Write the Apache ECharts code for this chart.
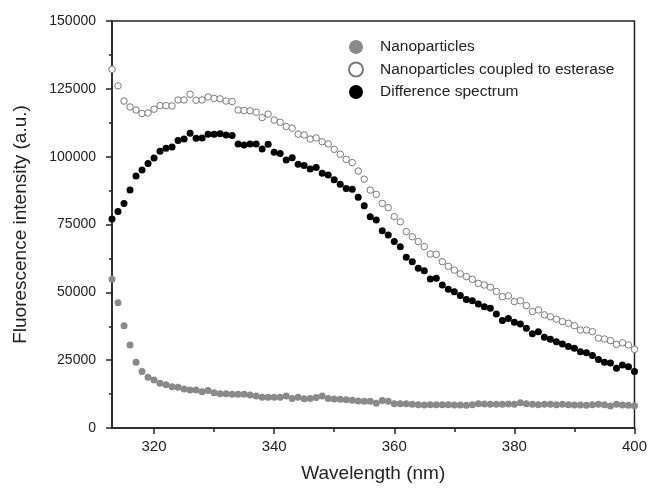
<!DOCTYPE html>
<html>
<head>
<meta charset="utf-8">
<script src="https://cdn.jsdelivr.net/npm/echarts@6/dist/echarts.min.js"></script>
<style>html,body{margin:0;padding:0;background:#fff}#c{width:650px;height:492px}</style>
</head>
<body>
<div id="c"></div>
<script>
const wavelengths = [313,314,315,316,317,318,319,320,321,322,323,324,325,326,327,328,329,330,331,332,333,334,335,336,337,338,339,340,341,342,343,344,345,346,347,348,349,350,351,352,353,354,355,356,357,358,359,360,361,362,363,364,365,366,367,368,369,370,371,372,373,374,375,376,377,378,379,380,381,382,383,384,385,386,387,388,389,390,391,392,393,394,395,396,397,398,399,400];
const nanoparticles = [54800,46200,37700,30600,24200,20800,18700,17700,16500,15900,15200,15000,14400,14000,14000,13400,13800,13000,12600,12600,12400,12400,12400,12200,11800,11300,11300,11300,11300,11800,10900,11300,10800,10900,11200,11800,10900,10700,10600,10400,10200,9950,9830,9830,9100,10100,9830,8970,8970,8970,8720,8600,8480,8600,8600,8600,8600,8480,8480,8350,8600,8970,8850,8720,8720,8720,8850,8720,9330,8970,8720,8600,8720,8720,8600,8720,8600,8480,8480,8350,8600,8720,8600,8110,8720,8480,8350,8230];
const coupled = [132200,126100,120500,118300,117200,115900,116100,117500,118800,118800,118700,120900,120900,123000,120800,120900,122000,121500,121300,120500,120300,117200,117000,116900,116400,114400,115700,113500,112700,111100,110500,108300,108000,106500,106900,105500,104700,102700,100900,99000,97800,94700,91700,87700,86100,82800,81200,77900,76000,72400,70500,68700,66800,64100,64000,61300,59600,58200,56800,55800,54800,53300,52700,51900,50300,48400,48700,46600,46900,45100,42900,43500,41700,41000,40100,39200,38600,37700,36100,36100,35500,33100,32800,32200,30800,31400,30600,29000];
const difference = [77000,79800,82700,87700,92900,95100,97500,99500,102000,103100,103600,106000,106500,108600,106800,106900,108300,108300,108400,108000,107800,104700,104300,104700,104700,102800,104600,101600,101200,98800,99600,97200,96700,95500,96000,93900,93200,91500,89800,88300,88000,85000,81900,77900,76700,72700,71100,68700,66800,62900,61300,58900,58000,54900,55200,52700,51100,50200,48800,47400,46900,45700,44700,44100,42000,39600,40400,39000,38300,36800,34700,35500,33400,32700,31800,31000,30000,29400,28100,27700,26700,25200,24200,24000,22000,23200,22600,20800];
const seriesNames = ['Nanoparticles','Nanoparticles coupled to esterase','Difference spectrum'];
const xMajorTicks = [320,340,360,380,400];
const xMinorTicks = [330,350,370,390];

const pair = arr => wavelengths.map((w,i)=>[w,arr[i]]);
const FONT = 'Liberation Sans, Arial, sans-serif';
const chart = echarts.init(document.getElementById('c'), null, {renderer:'canvas'});
chart.setOption({
  animation:false,
  backgroundColor:'#ffffff',
  grid:{left:112,right:13,top:21,bottom:64,show:true,borderColor:'#222',borderWidth:1.5,backgroundColor:'transparent'},
  legend:{
    orient:'vertical', left:343, top:34, itemWidth:14, itemHeight:14, itemGap:6.5,
    textStyle:{fontFamily:FONT,fontSize:15.5,color:'#222',padding:[0,0,0,12]},
    data:seriesNames
  },
  xAxis:[{
    type:'value', min:313, max:400,
    name:'Wavelength (nm)', nameLocation:'middle', nameGap:36,
    nameTextStyle:{fontFamily:FONT,fontSize:19,color:'#222'},
    axisLine:{show:true,lineStyle:{color:'#222',width:1.5}},
    axisTick:{show:true,inside:false,length:6,customValues:xMajorTicks,lineStyle:{color:'#222',width:1.5}},
    axisLabel:{show:true,customValues:xMajorTicks,fontFamily:FONT,fontSize:15,color:'#222',margin:11},
    splitLine:{show:false}
  },{
    type:'value', min:313, max:400, position:'bottom',
    axisLine:{show:false},
    axisTick:{show:true,inside:false,length:4,customValues:xMinorTicks,lineStyle:{color:'#222',width:1.5}},
    axisLabel:{show:false},
    splitLine:{show:false}
  }],
  yAxis:{
    type:'value', min:0, max:150000, interval:25000,
    name:'Fluorescence intensity (a.u.)', nameLocation:'middle', nameGap:82, nameRotate:90,
    nameTextStyle:{fontFamily:FONT,fontSize:19,color:'#222'},
    axisLine:{show:true,lineStyle:{color:'#222',width:1.5}},
    axisTick:{show:true,inside:false,length:6,lineStyle:{color:'#222',width:1.5}},
    minorTick:{show:true,splitNumber:2,length:3,lineStyle:{color:'#222',width:1.5}},
    axisLabel:{fontFamily:FONT,fontSize:14,color:'#222',margin:16,formatter:v=>String(v)},
    splitLine:{show:false}
  },
  series:[
    {name:seriesNames[0],type:'scatter',xAxisIndex:0,symbol:'circle',symbolSize:7,data:pair(nanoparticles),
     itemStyle:{color:'#8a8a8a',opacity:1}},
    {name:seriesNames[1],type:'scatter',xAxisIndex:0,symbol:'circle',symbolSize:6.5,data:pair(coupled),
     itemStyle:{color:'#ffffff',borderColor:'#7a7a7a',borderWidth:1,opacity:1}},
    {name:seriesNames[2],type:'scatter',xAxisIndex:0,symbol:'circle',symbolSize:7,data:pair(difference),
     itemStyle:{color:'#000000',opacity:1}}
  ]
});
</script>
</body>
</html>
